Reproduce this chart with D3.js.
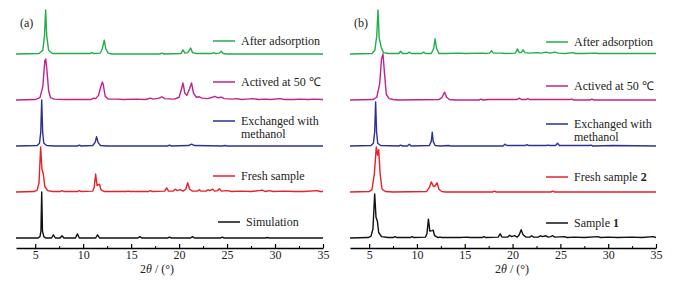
<!DOCTYPE html>
<html>
<head>
<meta charset="utf-8">
<script src="https://cdn.jsdelivr.net/npm/d3@7"></script>
<style>
  body { margin: 0; background: #fff; }
  text { font-family: "Liberation Serif", "Times New Roman", serif; fill: #222; }
</style>
</head>
<body>
<script>
// 2theta ticks
var xTicks = [5, 10, 15, 20, 25, 30, 35]
var xMinorTicks = [7.5, 12.5, 17.5, 22.5, 27.5, 32.5]

// panel (a) patterns, [2theta, intensity], bottom to top
var simA = [[3,0],[5.3,0],[5.5,3],[5.6,15],[5.68,100],[5.76,15],[5.9,3],[6.1,0],[6.7,0],[6.9,7],[7.1,0],[7.6,0],[7.8,5],[8.0,0],[9.2,0],[9.4,9],[9.6,0],[11.3,0],[11.5,7],[11.7,0],[15.7,0],[15.9,3],[16.1,0],[18.8,0],[19.0,2],[19.2,0],[21.2,0],[21.4,3],[21.6,0],[24.3,0],[24.5,2],[24.7,0],[29,0],[29.2,1],[29.4,0],[35,0]]
var freshA = [[3,0],[4.9,1],[5.2,4],[5.4,20],[5.57,98],[5.7,50],[5.85,39],[6.0,12],[6.3,3],[6.8,1],[7.6,1],[7.8,3],[8.0,1],[9.4,1],[9.6,3],[9.8,1],[11.0,2],[11.15,10],[11.3,39],[11.45,14],[11.6,16],[11.7,17],[11.85,5],[12.2,1],[14.5,1],[14.7,2],[14.9,1],[16.8,1],[17.0,3],[17.2,1],[18.5,2],[18.7,9],[18.9,2],[19.4,2],[19.6,6],[19.8,3],[20.1,5],[20.4,2],[20.7,6],[20.9,20],[21.1,6],[21.4,2],[21.9,2],[22.1,5],[22.3,2],[22.8,2],[23.0,5],[23.2,3],[23.5,6],[23.7,2],[24.0,3],[24.2,7],[24.4,2],[25,3],[25.5,1],[26.5,2],[27.5,1],[28.7,4],[29.0,1],[29.4,3],[29.8,1],[31,2],[32,1],[33,1],[34.4,3],[34.7,1],[35,1]]
var methA = [[3,0],[5.2,1],[5.45,6],[5.58,30],[5.68,100],[5.78,30],[5.9,6],[6.2,1],[7,0],[9.4,0],[9.6,2],[9.8,0],[11.0,1],[11.25,8],[11.4,20],[11.55,8],[11.8,1],[12.5,0],[18.8,0],[19.0,2],[19.2,0],[21.0,1],[21.3,4],[21.6,1],[24.5,0],[24.8,1],[25,0],[35,0]]
var activeA = [[3,0],[5.0,1],[5.5,5],[5.8,30],[6.0,85],[6.1,89],[6.2,70],[6.4,20],[6.6,5],[7.0,2],[8,1],[9,1],[10.8,1],[11.1,4],[11.3,3],[11.6,10],[11.85,30],[12.0,39],[12.1,33],[12.3,8],[12.6,2],[13.5,2],[14.2,1],[15.5,2],[16.5,1],[17.0,4],[17.3,2],[17.9,4],[18.2,7],[18.5,3],[19.5,2],[20.0,6],[20.2,20],[20.4,37],[20.6,15],[20.8,10],[21.1,25],[21.3,37],[21.5,15],[21.8,6],[22.1,7],[22.4,4],[23,3],[23.5,6],[23.7,8],[24.0,5],[24.4,6],[24.7,3],[25.5,2],[26,3],[26.5,1],[27,2],[27.7,3],[28.3,1],[29,2],[29.5,1],[30.5,3],[31,1],[32,1],[32.5,2],[33.5,1],[34,2],[35,1]]
var afterA = [[3,0],[5.4,1],[5.8,8],[5.97,40],[6.09,96],[6.2,40],[6.4,8],[6.8,1],[10.7,1],[10.9,3],[11.1,1],[11.8,2],[12.0,12],[12.2,30],[12.35,12],[12.6,2],[13,0],[18.0,0],[18.2,2],[18.4,0],[20.2,1],[20.4,9],[20.6,2],[20.9,3],[21.2,13],[21.4,3],[21.8,1],[23.4,1],[23.6,3],[23.8,1],[24.2,2],[24.4,6],[24.6,1],[25,0],[35,0]]

// panel (b) patterns
var sample1B = [[3,0],[4.9,1],[5.2,4],[5.4,20],[5.58,96],[5.72,45],[5.86,37],[6.0,12],[6.3,3],[7,1],[7.5,1],[7.7,3],[7.9,1],[9.3,1],[9.5,3],[9.7,1],[10.9,2],[11.05,10],[11.2,41],[11.35,15],[11.6,16],[11.7,17],[11.85,5],[12.2,1],[12.4,2],[12.6,1],[14.5,1],[15.3,2],[15.5,1],[16.8,1],[17.0,3],[17.2,1],[18.5,2],[18.7,9],[18.9,2],[19.5,2],[19.7,6],[19.9,3],[20.2,5],[20.5,2],[20.7,7],[20.9,18],[21.1,7],[21.4,2],[21.8,2],[22.0,5],[22.2,2],[22.7,2],[22.9,5],[23.1,3],[23.5,5],[23.7,2],[24.0,3],[24.2,5],[24.4,2],[25.4,3],[25.7,1],[26.5,2],[27.5,1],[28.9,3],[29.2,1],[30,2],[31,1],[32.5,2],[33.5,1],[34.7,3],[35,1]]
var fresh2B = [[3,0],[5.0,1],[5.3,5],[5.55,40],[5.75,98],[5.88,80],[6.0,92],[6.15,40],[6.35,6],[6.7,1],[7.5,0],[11.0,1],[11.3,10],[11.5,22],[11.7,13],[11.85,12],[12.1,20],[12.3,6],[12.6,1],[13,0],[17.9,0],[18.1,2],[18.3,0],[24.0,0],[24.2,2],[24.4,0],[35,0]]
var methB = [[3,0],[5.2,1],[5.45,6],[5.58,30],[5.68,96],[5.78,30],[5.9,6],[6.2,1],[8.1,0],[8.3,2],[8.5,0],[9.0,0],[9.2,4],[9.4,0],[11.3,1],[11.5,10],[11.6,30],[11.7,10],[11.9,1],[12.5,0],[13.3,1],[13.5,0],[19.0,0],[19.2,4],[19.4,1],[21.3,1],[21.5,3],[21.7,1],[23.5,1],[23.7,2],[23.9,1],[24.5,1],[24.7,6],[24.9,1],[26,1],[28.0,1],[28.2,2],[28.4,0],[30.5,1],[35,0]]
var activeB = [[3,0],[5.4,1],[5.8,6],[6.1,35],[6.3,90],[6.45,100],[6.6,60],[6.8,12],[7.1,3],[7.5,1],[8,0],[12.3,1],[12.6,5],[12.9,17],[13.1,6],[13.4,1],[14,0],[16.5,0],[16.7,2],[16.9,0],[17.5,1],[18.5,1],[19.5,1],[20.5,1],[20.7,4],[20.9,1],[21.4,1],[21.6,3],[21.8,1],[23,1],[24,1],[26.0,1],[26.2,2],[26.4,0],[28.1,0],[28.3,2],[28.5,0],[35,0]]
var afterB = [[3,0],[5.3,1],[5.6,8],[5.8,40],[5.93,96],[6.05,35],[6.28,13],[6.5,3],[7,1],[8.1,1],[8.3,6],[8.5,1],[9.0,1],[9.2,4],[9.4,1],[10.5,1],[10.7,4],[10.9,1],[11.5,1],[11.75,12],[11.9,33],[12.05,12],[12.3,1],[13,1],[14.5,2],[15,1],[16.9,2],[17.2,1],[17.6,2],[17.8,7],[18.0,2],[18.7,2],[19.3,1],[20.3,2],[20.5,11],[20.7,3],[20.9,3],[21.1,9],[21.3,3],[21.8,2],[22.6,3],[23,2],[23.5,4],[23.9,2],[24.4,4],[24.8,2],[25.5,1],[26.3,3],[26.6,1],[27.5,1],[28.6,2],[29,1],[30,1],[31,1],[35,1]]

var traceColors = ["#111111", "#e8202a", "#2e3192", "#c2228e", "#22ad4a"]
var labelsA = [["Simulation"], ["Fresh sample"], ["Exchanged with", "methanol"], ["Actived at 50 \u2103"], ["After adsorption"]]
var labelsB = [["Sample ", "1"], ["Fresh sample ", "2"], ["Exchanged with", "methanol"], ["Actived at 50 \u2103"], ["After adsorption"]]

var width = 677, height = 282

var svg = d3.select("body").append("svg")
    .attr("width", width)
    .attr("height", height)

var panels = [
  { tag: "(a)", series: [simA, freshA, methA, activeA, afterA], labels: labelsA, x0: 16, x1: 323, titleX: 157,
    legendUp: [16, 16, 25, 18, 13] },
  { tag: "(b)", series: [sample1B, fresh2B, methB, activeB, afterB], labels: labelsB, x0: 350, x1: 656, titleX: 512,
    legendUp: [15, 15, 22, 14, 12] }
]

var y = d3.scaleLinear().domain([0, 500]).range([238, 8])
var axisY = 248

panels.forEach(function(p, pi) {
  var x = d3.scaleLinear().domain([3, 35]).range([p.x0, p.x1])
  var g = svg.append("g")

  p.series.forEach(function(s, i) {
    var line = d3.line()
        .x(function(d){ return x(d[0]) })
        .y(function(d){ return y(d[1] + i * 100) })
    g.append("path")
        .datum(s)
        .attr("d", line)
        .attr("fill", "none")
        .attr("stroke", traceColors[i])
        .attr("stroke-width", 1.4)
        .attr("stroke-linejoin", "round")

    // legend
    var ly = y(i * 100) - p.legendUp[i]
    var lx = p.x1 - 110 + (pi == 0 && i == 0 ? 5 : 0)
    g.append("line")
        .attr("x1", lx).attr("x2", lx + 22)
        .attr("y1", ly).attr("y2", ly)
        .attr("stroke", traceColors[i])
        .attr("stroke-width", 1.5)
    var lab = p.labels[i]
    var t = g.append("text")
        .attr("x", lx + 28).attr("y", ly + 4)
        .attr("font-size", 12)
    if (lab.length == 2 && lab[0].slice(-1) == " ") {
      t.append("tspan").text(lab[0])
      t.append("tspan").attr("font-weight", "bold").text(lab[1])
    } else {
      lab.forEach(function(l, k) {
        t.append("tspan").attr("x", lx + 28).attr("dy", k == 0 ? 0 : 13).text(l)
      })
    }
  })

  // axis
  var minor = g.append("g").attr("transform", "translate(0," + axisY + ")")
      .call(d3.axisTop(x).tickValues(xMinorTicks).tickSize(2).tickFormat(""))
  var major = g.append("g").attr("transform", "translate(0," + axisY + ")")
      .call(d3.axisTop(x).tickValues(xTicks).tickSize(4).tickSizeOuter(0))
  minor.select(".domain").remove()
  major.select(".domain").attr("stroke-width", 1.5)
  major.selectAll(".tick line").attr("stroke-width", 1.2)
  major.selectAll(".tick text")
      .attr("y", 11).attr("dy", null)
      .attr("font-size", 12).attr("font-family", "Liberation Serif, serif")
      .attr("fill", "#222")

  var title = g.append("text")
      .attr("x", p.titleX).attr("y", 273)
      .attr("text-anchor", "middle")
      .attr("font-size", 12)
  title.append("tspan").text("2")
  title.append("tspan").attr("font-style", "italic").text("\u03b8")
  title.append("tspan").text(" / (\u00b0)")

  g.append("text")
      .attr("x", p.x0 + 4).attr("y", 27)
      .attr("font-size", 12)
      .text(p.tag)
})
</script>
</body>
</html>
